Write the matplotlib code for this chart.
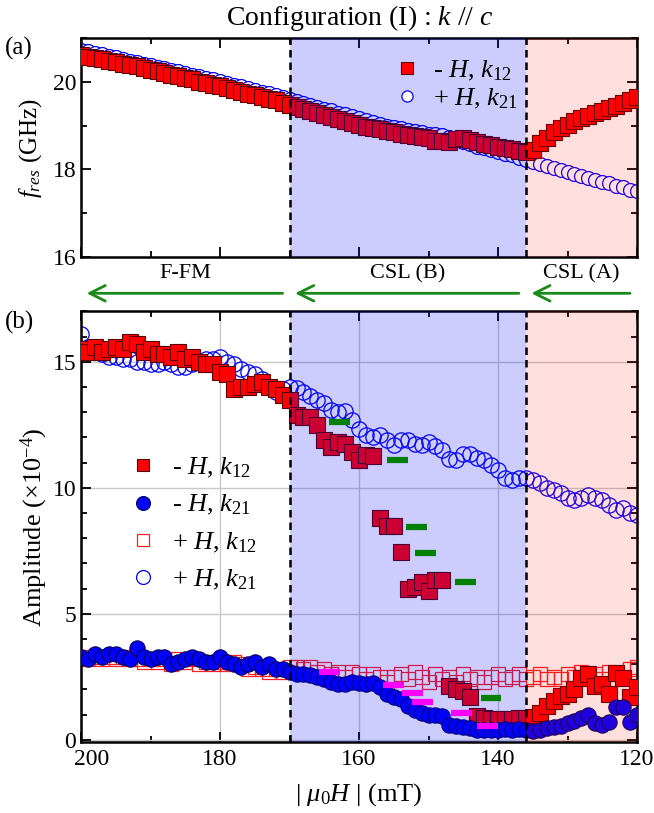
import numpy as np
import matplotlib
matplotlib.use('Agg')
import matplotlib.pyplot as plt
import matplotlib.transforms as mtransforms
from matplotlib.ticker import MultipleLocator

plt.rcParams['font.family'] = ['Liberation Serif', 'DejaVu Serif']
plt.rcParams['mathtext.fontset'] = 'custom'
plt.rcParams['mathtext.rm'] = 'Liberation Serif'
plt.rcParams['mathtext.it'] = 'Liberation Serif:italic'

# ---- panel (a): resonance frequency (GHz) ----
fa_x = list(range(200, 119, -1))
fa_neg_k12 = [20.62, 20.58, 20.55, 20.52, 20.48, 20.45, 20.42, 20.38, 20.36, 20.31,
              20.27, 20.24, 20.20, 20.17, 20.13, 20.09, 20.06, 20.01, 19.97, 19.94,
              19.90, 19.86, 19.82, 19.78, 19.73, 19.70, 19.66, 19.62, 19.58, 19.53,
              19.48,
              19.42, 19.38, 19.33, 19.28, 19.24, 19.20, 19.15, 19.10, 19.06, 19.02,
              18.98, 18.95, 18.92, 18.88, 18.85, 18.82, 18.78, 18.76, 18.73, 18.72,
              18.66, 18.64, 18.62, 18.70, 18.72, 18.68, 18.62, 18.58, 18.55, 18.52,
              18.50, 18.46, 18.43, 18.40,
              18.45, 18.60, 18.72, 18.85, 18.95, 19.02, 19.10, 19.18, 19.22, 19.28,
              19.33, 19.40, 19.45, 19.52, 19.58, 19.65]
fa_pos_k21 = [20.74, 20.70, 20.67, 20.63, 20.60, 20.56, 20.53, 20.49, 20.46, 20.42,
              20.38, 20.35, 20.31, 20.28, 20.24, 20.20, 20.17, 20.13, 20.09, 20.06,
              20.02, 19.98, 19.94, 19.90, 19.86, 19.82, 19.78, 19.74, 19.70, 19.66,
              19.62,
              19.57, 19.52, 19.48, 19.43, 19.39, 19.35, 19.30, 19.26, 19.22, 19.17,
              19.13, 19.08, 19.04, 19.00, 18.97, 18.94, 18.91, 18.88, 18.85, 18.82,
              18.80, 18.79, 18.74, 18.68, 18.62, 18.57, 18.52, 18.48, 18.44, 18.40,
              18.36, 18.32, 18.27, 18.22,
              18.18, 18.13, 18.08, 18.03, 17.98, 17.94, 17.90, 17.85, 17.80, 17.76,
              17.72, 17.68, 17.63, 17.59, 17.54, 17.50]

# ---- panel (b): amplitude (x1e-4) ----
amp_x = list(range(200, 119, -1))
amp_pos_k21 = [16.1, 15.6, 15.4, 15.3, 15.2, 15.2, 15.1, 15.1, 15.0, 15.0,
               14.9, 14.9, 15.0, 14.9, 14.8, 14.8, 14.9, 15.0, 15.1, 15.1,
               15.2, 15.0, 14.9, 14.7, 14.6, 14.5, 14.3, 14.0, 13.8, 13.9,
               14.0,
               13.95, 13.8, 13.65, 13.5, 13.35, 13.1, 13.0, 13.05, 12.7, 12.35,
               12.1, 12.0, 12.1, 11.9, 11.7, 11.9, 11.9, 11.75, 11.7, 11.8,
               11.65, 11.5, 11.15, 11.1, 11.35, 11.35, 11.2, 11.1, 10.9, 10.7,
               10.4, 10.3, 10.4, 10.4,
               10.3, 10.2, 10.0, 9.9, 9.8, 9.6, 9.5, 9.6, 9.7, 9.6,
               9.5, 9.3, 9.1, 9.2, 9.0, 8.9]
amp_pos_k12 = [3.3, 3.2, 3.3, 3.2, 3.3, 3.2, 3.3, 3.2, 3.2, 3.1,
               3.2, 3.1, 3.2, 3.0, 3.2, 3.1, 3.2, 3.0, 3.1, 3.0,
               3.1, 3.0, 3.1, 3.0, 2.8, 2.9, 2.8, 2.7, 2.8, 2.7,
               2.9,
               2.9, 2.8, 2.9, 2.7, 2.8, 2.6, 2.7, 2.5, 2.7, 2.6,
               2.4, 2.6, 2.5, 2.3, 2.5, 2.6, 2.4, 2.7, 2.5, 2.3,
               2.6, 2.4, 2.5, 2.3, 2.6, 2.4, 2.5, 2.3, 2.5, 2.6,
               2.4, 2.5, 2.6, 2.4,
               2.5, 2.6, 2.4, 2.5, 2.4, 2.6, 2.5, 2.7, 2.5, 2.6,
               2.4, 2.7, 2.6, 2.5, 2.8, 2.9]
amp_neg_k21 = [3.3, 3.2, 3.4, 3.3, 3.4, 3.4, 3.3, 3.2, 3.65, 3.3,
               3.2, 3.3, 3.3, 3.0, 3.1, 3.2, 3.3, 3.2, 3.1, 3.1,
               3.3, 3.1, 3.0, 2.9, 3.0, 3.1, 2.9, 3.0, 2.8, 2.8,
               2.7,
               2.6, 2.6, 2.55, 2.5, 2.4, 2.3, 2.2, 2.2, 2.3, 2.25,
               2.2, 2.25, 2.1, 1.8, 1.7, 1.6, 1.35, 1.2, 1.05, 1.0,
               1.0, 0.95, 0.6, 0.55, 0.5, 0.45, 0.4, 0.37, 0.37, 0.4,
               0.42, 0.4, 0.42, 0.37,
               0.35, 0.4, 0.45, 0.5, 0.55, 0.65, 0.75, 0.85, 1.0, 0.65,
               0.6, 0.7, 1.3, 1.3, 0.7, 1.0]
amp_neg_k12_x = list(range(200, 119, -1))
amp_neg_k12 = [15.5, 15.4, 15.6, 15.4, 15.5, 15.6, 15.5, 15.8, 15.7, 15.4,
               15.5, 15.3, 15.3, 15.2, 15.4, 15.1, 15.2, 15.0, 14.9, 14.9,
               14.6, 14.5, 13.9, 14.0, 14.0, 14.1, 14.2, 14.0, 13.9, 13.7,
               13.5,
               12.9, 12.8, 12.8, 12.5, 11.9, 11.6, 11.8, 11.75, 11.4, 11.1,
               11.3, 11.25, 8.8, 8.5, 8.5, 7.45, 6.0, 6.05, 6.25, 5.9,
               6.35, 6.35, 2.15, 2.0, 1.95, 1.7, 0.95, 0.87, 0.83, 0.83,
               0.83, 0.83, 0.86, 0.86,
               0.9, 1.05, 1.35, 1.55, 1.75, 1.8, 2.0, 2.45, 2.6, 2.15,
               2.2, 1.8, 2.65, 2.45, 1.7, 2.1]

green_x = [162.8, 154.5, 151.7, 150.4, 144.7, 141.0]
green_y = [12.6, 11.1, 8.45, 7.4, 6.25, 1.65]
magenta_x = [164.3, 155.1, 152.3, 150.9, 145.2, 141.5]
magenta_y = [2.7, 2.17, 1.86, 1.5, 1.07, 0.53]

phase_names = ['F-FM', 'CSL (B)', 'CSL (A)']
phase_edges = [200, 170, 136, 120]

lab_neg12 = r'- $H$, $k_{\mathit{12}}$'
lab_neg21 = r'- $H$, $k_{\mathit{21}}$'
lab_pos12 = r'+ $H$, $k_{\mathit{12}}$'
lab_pos21 = r'+ $H$, $k_{\mathit{21}}$'

fig = plt.figure(figsize=(6.54, 8.13), dpi=100)
ax1 = fig.add_axes([0.124, 0.684, 0.850, 0.269])
ax2 = fig.add_axes([0.124, 0.087, 0.850, 0.530])

sq_edge = '#5a0000'
for ax in (ax1, ax2):
    ax.axvspan(136, 170, color=(0, 0, 1), alpha=0.2, lw=0, zorder=5)
    ax.axvspan(120, 136, color=(1, 0, 0), alpha=0.13, lw=0, zorder=5)
    for xv in (170, 136):
        ax.axvline(xv, color='black', ls=(0, (3, 2)), lw=1.8, zorder=6)
    ax.set_xlim(200, 120)
    ax.xaxis.set_major_locator(MultipleLocator(20))
    ax.xaxis.set_minor_locator(MultipleLocator(10))
    ax.tick_params(which='both', direction='in', top=True, right=True,
                   labelsize=17, width=1.3)
    ax.tick_params(which='major', length=7)
    ax.tick_params(which='minor', length=4)
    for s in ax.spines.values():
        s.set_linewidth(1.8)

# panel (a)
ax1.plot(fa_x, fa_pos_k21, ls='none', marker='o', ms=10, mfc='white',
         mec='#0000ff', mew=0.9, zorder=2)
ax1.plot(fa_x, fa_neg_k12, ls='none', marker='s', ms=11, mfc='#ff0000',
         mec=sq_edge, mew=0.8, zorder=3)
ax1.set_ylim(16, 21)
ax1.yaxis.set_major_locator(MultipleLocator(2))
ax1.yaxis.set_minor_locator(MultipleLocator(1))
ax1.set_xticklabels([])
ax1.set_ylabel(r'$f_{res}$ (GHz)', fontsize=18, labelpad=6)

h1, = ax1.plot([], [], ls='none', marker='s', ms=8, mfc='#ff0000', mec=sq_edge, mew=0.8)
h2, = ax1.plot([], [], ls='none', marker='o', ms=8, mfc='white', mec='#0000ff', mew=0.9)
leg1 = ax1.legend([h1, h2], [lab_neg12, lab_pos21],
                  loc='upper left', bbox_to_anchor=(0.515, 1.015), frameon=False,
                  fontsize=19, handletextpad=0.4, labelspacing=0.15, handlelength=1.2)
leg1.set_zorder(10)

# panel (b)
ax2.grid(True, which='major', color='#c8c8c8', lw=1, zorder=0)
ax2.plot(amp_x, amp_pos_k21, ls='none', marker='o', ms=11, mfc='none',
         mec='#0000ff', mew=0.9, zorder=2)
ax2.plot(amp_x, amp_pos_k12, ls='none', marker='s', ms=10, mfc='none',
         mec='#ff2020', mew=0.9, zorder=2)
ax2.plot(amp_neg_k12_x, amp_neg_k12, ls='none', marker='s', ms=11, mfc='#ff0000',
         mec=sq_edge, mew=0.8, zorder=3)
ax2.plot(amp_x, amp_neg_k21, ls='none', marker='o', ms=11, mfc='#0000ff',
         mec='#00005a', mew=0.8, zorder=4)
for xc, yc in zip(green_x, green_y):
    ax2.hlines(yc, xc - 1.5, xc + 1.5, color='#008000', lw=4.5, zorder=7)
for xc, yc in zip(magenta_x, magenta_y):
    ax2.hlines(yc, xc - 1.5, xc + 1.5, color='#ff00ff', lw=4.5, zorder=7)

ax2.set_ylim(-0.1, 17)
ax2.yaxis.set_major_locator(MultipleLocator(5))
ax2.yaxis.set_minor_locator(MultipleLocator(1))
ax2.set_ylabel(r'Amplitude ($\times$10$^{-4}$)', fontsize=19, labelpad=2)
ax2.set_xlabel(r'| $\mu_0H$ | (mT)', fontsize=19, labelpad=8)
ax2.tick_params(axis='x', pad=5)

g1, = ax2.plot([], [], ls='none', marker='s', ms=9, mfc='#ff0000', mec=sq_edge, mew=0.8)
g2, = ax2.plot([], [], ls='none', marker='o', ms=10, mfc='#0000ff', mec='#00005a', mew=0.8)
g3, = ax2.plot([], [], ls='none', marker='s', ms=9, mfc='none', mec='#ff2020', mew=0.9)
g4, = ax2.plot([], [], ls='none', marker='o', ms=10, mfc='none', mec='#0000ff', mew=0.9)
leg2 = ax2.legend([g1, g2, g3, g4], [lab_neg12, lab_neg21, lab_pos12, lab_pos21],
                  loc='upper left', bbox_to_anchor=(0.04, 0.72), frameon=False,
                  fontsize=19, handletextpad=0.5, labelspacing=0.5, handlelength=1.2)
leg2.set_zorder(10)

# nudge the "200" tick label right, as in the original figure
fig.canvas.draw()
for t in ax2.get_xticklabels():
    if t.get_text() == '200':
        t.set_transform(t.get_transform() +
                        mtransforms.ScaledTranslation(11 / 100, 0, fig.dpi_scale_trans))

# phase labels and arrows between the panels
tr = ax2.get_xaxis_transform()
for i, name in enumerate(phase_names):
    left, right = phase_edges[i], phase_edges[i + 1]
    ax2.text((left + right) / 2, 1.088, name, transform=tr, ha='center',
             va='center', fontsize=16, clip_on=False)
    ax2.annotate('', xy=(left - 0.4, 1.042), xycoords=tr,
                 xytext=(right + 0.6, 1.042), textcoords=tr,
                 arrowprops=dict(arrowstyle='->', color='#1a8a1a', lw=2,
                                 mutation_scale=28))

fig.text(0.55, 0.978, r'Configuration (I) : $k$ // $c$', ha='center', va='center',
         fontsize=20)
fig.text(0.008, 0.941, '(a)', fontsize=18, va='center')
fig.text(0.008, 0.603, '(b)', fontsize=18, va='center')

fig.savefig('out.png', dpi=100)
